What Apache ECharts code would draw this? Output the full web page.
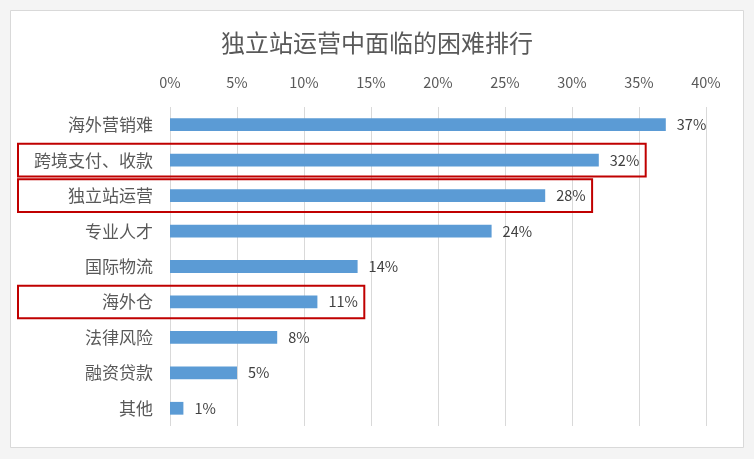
<!DOCTYPE html>
<html>
<head>
<meta charset="utf-8">
<script src="https://cdn.jsdelivr.net/npm/echarts@6/dist/echarts.min.js"></script>
<style>
  html, body { margin: 0; padding: 0; background: #f4f4f4; }
  #main { width: 754px; height: 459px; }
</style>
</head>
<body>
<div id="main"></div>
<script>
// 独立站运营中面临的困难排行
const categories = ['海外营销难', '跨境支付、收款', '独立站运营', '专业人才', '国际物流', '海外仓', '法律风险', '融资贷款', '其他'];
const values = [37, 32, 28, 24, 14, 11, 8, 5, 1];
const xTicks = [0, 5, 10, 15, 20, 25, 30, 35, 40];
// categories highlighted with a red frame
const highlighted = ['跨境支付、收款', '独立站运营', '海外仓'];

const font = '"Noto Sans CJK SC", "Noto Sans", sans-serif';
const chart = echarts.init(document.getElementById('main'));

const option = {
    animation: false,
    title: {
        text: '独立站运营中面临的困难排行',
        left: 'center',
        top: 26,
        textStyle: { fontFamily: font, fontSize: 24, fontWeight: 'normal', color: '#595959' }
    },
    grid: { left: 170, right: 48, top: 107, bottom: 33 },
    xAxis: {
        type: 'value',
        position: 'top',
        min: xTicks[0],
        max: xTicks[xTicks.length - 1],
        interval: 5,
        axisLine: { show: false },
        axisTick: { show: false },
        axisLabel: { formatter: '{value}%', color: '#595959', fontFamily: font, fontSize: 14.5, margin: 17 },
        splitLine: { lineStyle: { color: '#d9d9d9' } }
    },
    yAxis: {
        type: 'category',
        inverse: true,
        data: categories,
        axisLine: { show: false },
        axisTick: { show: false },
        axisLabel: { color: '#595959', fontFamily: font, fontSize: 17, margin: 17 }
    },
    series: [{
        type: 'bar',
        data: values,
        barWidth: '36%',
        itemStyle: { color: '#5b9bd5' },
        label: {
            show: true,
            position: 'right',
            distance: 11,
            formatter: p => p.value + '%',
            color: '#404040',
            fontFamily: font,
            fontSize: 14.5
        }
    }]
};
chart.setOption(option);

// frame + red boxes, placed from the chart's own scales
function drawOverlay() {
    const band = chart.convertToPixel({ yAxisIndex: 0 }, categories[1]) - chart.convertToPixel({ yAxisIndex: 0 }, categories[0]);
    const elements = [{
        type: 'rect',
        z: -10,
        shape: { x: 10.5, y: 10.5, width: 733, height: 437 },
        style: { fill: '#ffffff', stroke: '#d9d9d9', lineWidth: 1 }
    }];
    highlighted.forEach(name => {
        const i = categories.indexOf(name);
        const pt = chart.convertToPixel({ gridIndex: 0 }, [values[i] + 3.5, name]);
        const left = 18;
        elements.push({
            type: 'rect',
            z: 100,
            shape: { x: left, y: pt[1] - band * 0.46, width: pt[0] - left, height: band * 0.92 },
            style: { fill: 'none', stroke: '#c00000', lineWidth: 2 }
        });
    });
    chart.setOption({ graphic: elements });
}
drawOverlay();
</script>
</body>
</html>
